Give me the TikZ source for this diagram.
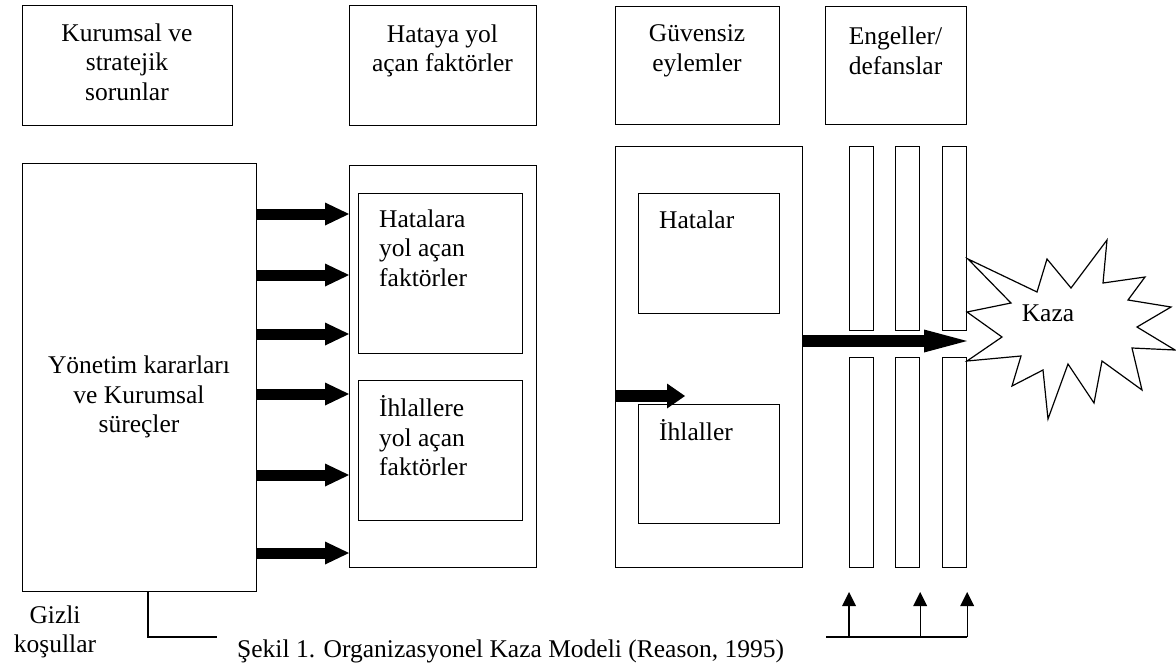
\documentclass[tikz,border=0pt]{standalone}
\usepackage{fontspec}
\setmainfont{Liberation Serif}
\usetikzlibrary{arrows.meta}
\begin{document}
\begin{tikzpicture}[x=1pt,y=-1pt,
  box/.style={draw, line width=1.2pt, inner sep=0pt, anchor=north west},
  txt/.style={font=\fontsize{25.5}{29.5}\selectfont, inner sep=0pt, align=center},
  ltxt/.style={txt, align=left, anchor=west},
  fat/.style={line width=11pt, -{Triangle[width=23pt,length=24pt,line width=0pt]}},
  fatshort/.style={line width=12pt, -{Triangle[width=25pt,length=18pt,line width=0pt]}},
  fatlong/.style={line width=12pt, -{Triangle[width=23pt,length=43pt,line width=0pt]}},
  lead/.style={line width=1.2pt},
  uparrow/.style={line width=1.2pt, -{Triangle[width=14pt,length=14pt,line width=0pt]}}]
\useasboundingbox (0,0) rectangle (1176,665);

% column headings
\node[box, minimum width=210pt, minimum height=120pt] (k1) at (22,5) {};
\node[box, minimum width=187pt, minimum height=120pt] (k2) at (349,5) {};
\node[box, minimum width=164pt, minimum height=118pt] (k3) at (615,6) {};
\node[box, minimum width=141pt, minimum height=118pt] (k4) at (825,6) {};
\node[txt] (t1) at (127,62) {Kurumsal ve\\stratejik\\sorunlar};
\node[txt] (t2) at (442.5,51) {Hataya yol\\açan faktörler};
\node[txt] (t3) at (697,51) {Güvensiz\\eylemler};
\node[txt] (t4) at (895.5,51) {Engeller/\\defanslar};

% management decisions
\node[box, minimum width=234pt, minimum height=428pt] (big) at (22,163) {};
\node[txt] (tb) at (139,397) {Yönetim kararları\\ve Kurumsal\\süreçler};

% error- and violation-producing conditions
\node[box, minimum width=187pt, minimum height=402pt] (mid) at (349,165) {};
\node[box, minimum width=164pt, minimum height=160pt] (mi1) at (358,193) {};
\node[box, minimum width=164pt, minimum height=140pt] (mi2) at (358,380) {};
\node[ltxt] (tm1) at (379,248) {Hatalara\\yol açan\\faktörler};
\node[ltxt] (tm2) at (379,436) {İhlallere\\yol açan\\faktörler};

% unsafe acts
\node[box, minimum width=187pt, minimum height=421pt] (gv) at (615,146) {};
\node[box, minimum width=141pt, minimum height=120pt] (gv1) at (638,193) {};
\node[box, minimum width=141pt, minimum height=119pt] (gv2) at (638,404) {};
\node[ltxt] (tg1) at (659,220) {Hatalar};
\node[ltxt] (tg2) at (659,430) {İhlaller};

% defence bars
\node[box, minimum width=24pt, minimum height=184pt] (b1u) at (849,146) {};
\node[box, minimum width=24pt, minimum height=184pt] (b2u) at (895,146) {};
\node[box, minimum width=24pt, minimum height=184pt] (b3u) at (942,146) {};
\node[box, minimum width=24pt, minimum height=210pt] (b1l) at (849,357) {};
\node[box, minimum width=24pt, minimum height=210pt] (b2l) at (895,357) {};
\node[box, minimum width=24pt, minimum height=210pt] (b3l) at (942,357) {};

% accident burst
\draw[lead, line join=miter] (968,259) -- (1037,292) -- (1047,259) -- (1071,288) -- (1107,240)
  -- (1103,283) -- (1145,277) -- (1128,300) -- (1171,307) -- (1137,327) -- (1175,350)
  -- (1132,348) -- (1142,390) -- (1102,361) -- (1094,403) -- (1068,364) -- (1048,419)
  -- (1043,370) -- (1012,386) -- (1021,356) -- (967,361) -- (1002,337) -- (967,312)
  -- (1011,303) -- cycle;
\node[txt] (kaza) at (1048,313) {Kaza};

% arrows from management to conditions
\foreach \yy in {214,275,334,394,475,553}
  \draw[fat] (big.east |- 0,\yy) -- (mid.west |- 0,\yy);

% arrows within unsafe acts and towards the accident
\coordinate (sa) at (685,396);
\draw[fatshort] (gv.west |- sa) -- (sa);
\coordinate (ba) at (967,341);
\draw[fatlong] (gv.east |- ba) -- (ba);

% latent conditions line
\coordinate (gzc) at (148,637);
\coordinate (gze) at (217,637);
\draw[lead] (big.south -| gzc) -- (gzc) -- (gze);
\node[txt] (gizli) at (55,632) {Gizli\\koşullar};
\node[txt, anchor=west] (cap) at (237,651) {Şekil 1. Organizasyonel Kaza Modeli (Reason, 1995)};

% arrows feeding the defences
\coordinate (bl) at (826,637);
\draw[lead] (bl) -- (bl -| b3l.east);
\draw[uparrow] (b1l.west |- bl) -- ++(0,-45);
\draw[uparrow] (b2l.east |- bl) -- ++(0,-45);
\draw[uparrow] (b3l.east |- bl) -- ++(0,-45);
\end{tikzpicture}
\end{document}
